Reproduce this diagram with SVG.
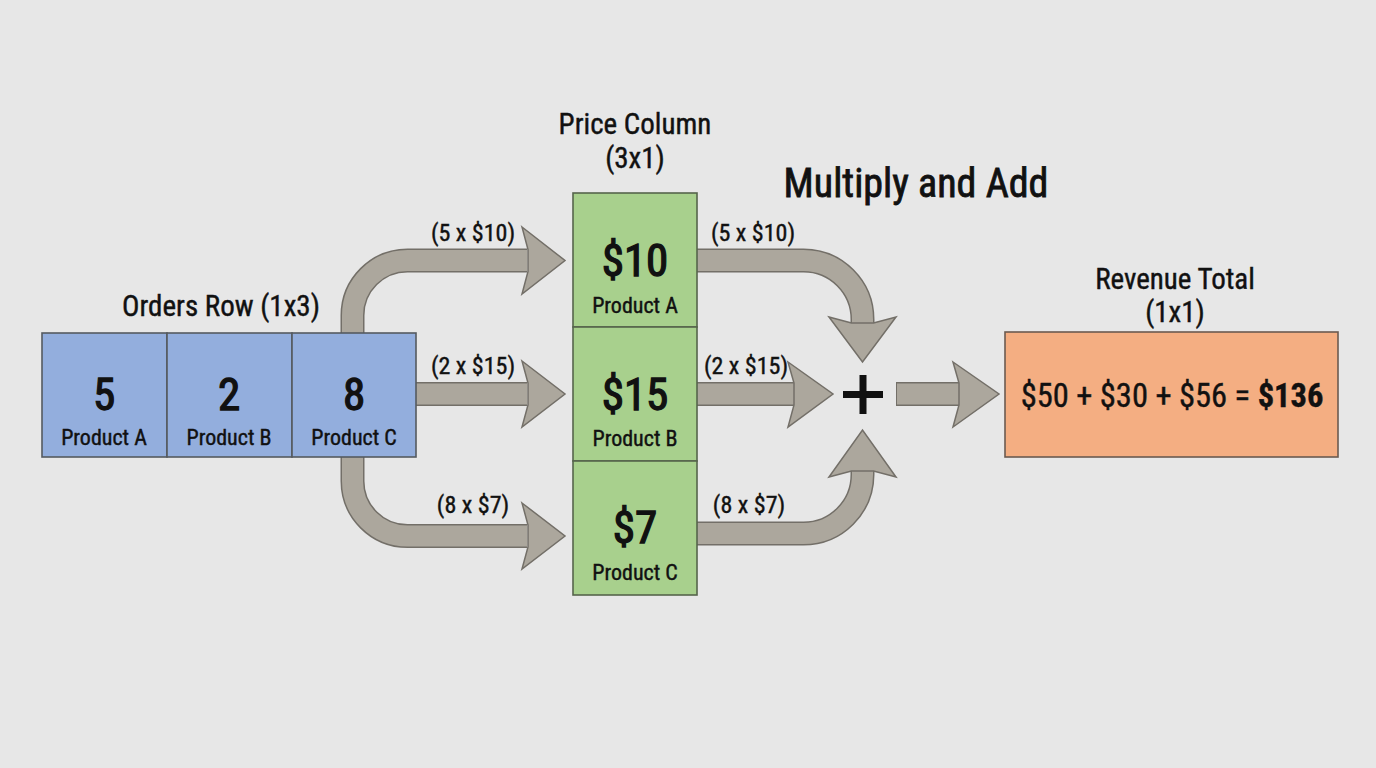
<svg xmlns="http://www.w3.org/2000/svg" width="1376" height="768" viewBox="0 0 1376 768">
<style>
text{font-family:"Roboto Condensed","Liberation Sans Narrow","Liberation Sans",Arial,sans-serif;fill:#111;text-anchor:middle;stroke:#111;stroke-width:0.4}
.title{font-size:29px}
.big{font-size:45px;stroke-width:1.3}
.sub{font-size:22px}
.lbl{font-size:24px}
.cell{stroke:#555a60;stroke-width:1.6}
.blue{fill:#93aedd}
.green{fill:#a8d08d;stroke:#56644c}
.orange{fill:#f4ae82;stroke:#6b5a50}
.sh-o{fill:none;stroke:#736f68;stroke-width:24}
.sh-i{fill:none;stroke:#aca79d;stroke-width:21}
.head{fill:#aca79d;stroke:#736f68;stroke-width:1.5;stroke-linejoin:miter}
</style>
<rect width="1376" height="768" fill="#e7e7e7"/>

<g id="connectors">
  <path class="sh-o" d="M352.5,333 V315.5 A55,55 0 0 1 407.5,260.5 H527"/>
  <path class="sh-i" d="M352.5,334 V315.5 A55,55 0 0 1 407.5,260.5 H527"/>
  <polygon class="head" points="522,227 565,260.5 522,294 528,271.5 528,249.5"/>
  <path class="sh-o" d="M416,394 H527"/>
  <path class="sh-i" d="M415,394 H527"/>
  <polygon class="head" points="522,361 565,394 522,427 528,405 528,383"/>
  <path class="sh-o" d="M352.5,457 V481 A55,55 0 0 0 407.5,536 H527"/>
  <path class="sh-i" d="M352.5,456 V481 A55,55 0 0 0 407.5,536 H527"/>
  <polygon class="head" points="522,503 565,536 522,569 528,547 528,525"/>

  <path class="sh-o" d="M697,260.5 H803.5 A59,59 0 0 1 862.5,319.5 V324"/>
  <path class="sh-i" d="M696,260.5 H803.5 A59,59 0 0 1 862.5,319.5 V324"/>
  <polygon class="head" points="829,317 851.5,323 873.5,323 896,317 862.5,362"/>
  <path class="sh-o" d="M697,394 H794"/>
  <path class="sh-i" d="M696,394 H794"/>
  <polygon class="head" points="788,362 833,394 788,427 794,405 794,383"/>
  <path class="sh-o" d="M697,533.5 H803.5 A59,59 0 0 0 862.5,474.5 V470"/>
  <path class="sh-i" d="M696,533.5 H803.5 A59,59 0 0 0 862.5,474.5 V470"/>
  <polygon class="head" points="829,477 851.5,471 873.5,471 896,477 862.5,430"/>

  <path class="sh-o" d="M896,394 H959"/>
  <path class="sh-i" d="M897,394 H959"/>
  <polygon class="head" points="953,362 999,394 953,427 959,405 959,383"/>

  <text class="lbl" x="473" y="241">(5 x $10)</text>
  <text class="lbl" x="473" y="374">(2 x $15)</text>
  <text class="lbl" x="473" y="513">(8 x $7)</text>
  <text class="lbl" x="753" y="241">(5 x $10)</text>
  <text class="lbl" x="746" y="374">(2 x $15)</text>
  <text class="lbl" x="749" y="513">(8 x $7)</text>
</g>

<g id="orders">
  <text class="title" x="221" y="316">Orders Row (1x3)</text>
  <rect class="cell blue" x="42" y="333" width="125" height="124"/>
  <rect class="cell blue" x="167" y="333" width="125" height="124"/>
  <rect class="cell blue" x="292" y="333" width="124" height="124"/>
  <text class="big" x="104" y="410">5</text>
  <text class="sub" x="104" y="445">Product A</text>
  <text class="big" x="229" y="410">2</text>
  <text class="sub" x="229" y="445">Product B</text>
  <text class="big" x="354" y="410">8</text>
  <text class="sub" x="354" y="445">Product C</text>
</g>

<g id="prices">
  <text class="title" x="635" y="134">Price Column</text>
  <text class="title" x="635" y="168">(3x1)</text>
  <rect class="cell green" x="573" y="193" width="124" height="134"/>
  <rect class="cell green" x="573" y="327" width="124" height="134"/>
  <rect class="cell green" x="573" y="461" width="124" height="134"/>
  <text class="big" x="635" y="276">$10</text>
  <text class="sub" x="635" y="313">Product A</text>
  <text class="big" x="635" y="410">$15</text>
  <text class="sub" x="635" y="446">Product B</text>
  <text class="big" x="635" y="543">$7</text>
  <text class="sub" x="635" y="580">Product C</text>
</g>

<g id="multiply-add">
  <text x="916" y="197" style="font-size:40px;stroke-width:0.8">Multiply and Add</text>
  <rect x="843" y="391" width="40" height="7" fill="#111"/>
  <rect x="859.5" y="375" width="7" height="39" fill="#111"/>
</g>

<g id="revenue">
  <text class="title" x="1175" y="289">Revenue Total</text>
  <text class="title" x="1175" y="322">(1x1)</text>
  <rect class="cell orange" x="1005" y="332" width="333" height="125"/>
  <text x="1172" y="407" style="font-size:32.5px">$50 + $30 + $56 = <tspan font-weight="bold">$136</tspan></text>
</g>
</svg>
